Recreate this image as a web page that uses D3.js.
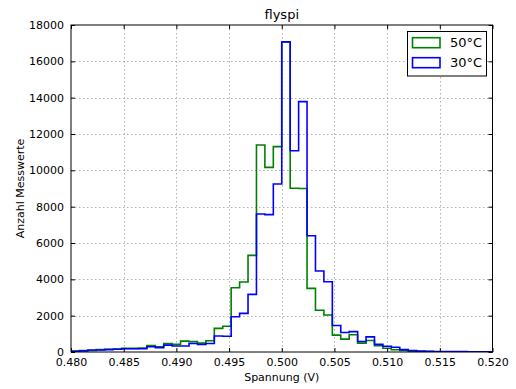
<!DOCTYPE html>
<html>
<head>
<meta charset="utf-8">
<script src="https://cdn.jsdelivr.net/npm/d3@7"></script>
<style>
  body { margin: 0; background: #fff; }
  text { font-family: "DejaVu Sans", sans-serif; fill: #000; }
</style>
</head>
<body>
<svg id="chart" width="516" height="389"></svg>
<script>
// ---- data ----
const title = "flyspi";
const xLabel = "Spannung (V)";
const yLabel = "Anzahl Messwerte";
const seriesNames = ["50°C", "30°C"];
const binMin = 0.480, binMax = 0.520, binCount = 50;
const values50 = [50, 80, 80, 130, 150, 160, 200, 200, 220, 350,
  290, 460, 420, 600, 570, 490, 620, 1300, 1420, 3540,
  3850, 5320, 11395, 10165, 11303, 17050, 9010, 9000, 3505, 2295,
  2037, 930, 710, 950, 490, 630, 340, 210, 120, 80,
  50, 30, 20, 15, 10, 10, 5, 5, 5, 5];
const values30 = [40, 60, 110, 110, 130, 150, 180, 180, 180, 290,
  240, 380, 330, 330, 470, 410, 470, 880, 870, 1944,
  2128, 3174, 7597, 7560, 9248, 17080, 11080, 13780, 6403, 4459,
  3871, 1460, 1070, 1120, 580, 830, 420, 320, 260, 130,
  80, 50, 40, 30, 30, 20, 20, 15, 15, 10];
const xTicks = [0.480, 0.485, 0.490, 0.495, 0.500, 0.505, 0.510, 0.515, 0.520];
const yTicks = [0, 2000, 4000, 6000, 8000, 10000, 12000, 14000, 16000, 18000];
const colors = ["#008000", "#0000ff"];

// ---- layout ----
const svg = d3.select("#chart");
const L = 71, R = 492.5, T = 25, B = 352;
const x = d3.scaleLinear().domain([binMin, binMax]).range([L, R]);
const y = d3.scaleLinear().domain([0, 18000]).range([B, T]);
const edges = d3.range(binCount + 1).map(i => binMin + (binMax - binMin) * i / binCount);

svg.append("rect").attr("x", 0).attr("y", 0).attr("width", 516).attr("height", 389).attr("fill", "#fff");

// grid
const grid = svg.append("g").attr("stroke", "#b0b0b0").attr("stroke-width", 1).attr("stroke-dasharray", "1.5,2.5");
xTicks.slice(1, -1).forEach(t => grid.append("line").attr("x1", Math.round(x(t)) + 0.5).attr("x2", Math.round(x(t)) + 0.5).attr("y1", T).attr("y2", B));
yTicks.slice(1, -1).forEach(t => grid.append("line").attr("y1", Math.round(y(t)) + 0.5).attr("y2", Math.round(y(t)) + 0.5).attr("x1", L).attr("x2", R));

// clip
svg.append("clipPath").attr("id", "clip").append("rect").attr("x", L).attr("y", T).attr("width", R - L).attr("height", B - T);

function stepPoints(vals) {
  const pts = [[edges[0], 0]];
  vals.forEach((v, i) => { pts.push([edges[i], v]); pts.push([edges[i + 1], v]); });
  pts.push([edges[binCount], 0]);
  return pts;
}
const line = d3.line().x(d => x(d[0])).y(d => y(d[1]));
[values50, values30].forEach((vals, k) => {
  svg.append("path").attr("clip-path", "url(#clip)")
    .attr("d", line(stepPoints(vals)))
    .attr("fill", "none").attr("stroke", colors[k]).attr("stroke-width", 1.6)
    .attr("stroke-linejoin", "miter");
});

// axes with inside ticks
const xAxisB = d3.axisBottom(x).tickValues(xTicks).tickFormat(d3.format(".3f")).tickSizeInner(-4).tickSizeOuter(0).tickPadding(6);
const yAxisL = d3.axisLeft(y).tickValues(yTicks).tickFormat(d3.format("d")).tickSizeInner(-4).tickSizeOuter(0).tickPadding(6);
const gx = svg.append("g").attr("transform", `translate(0,${B})`).call(xAxisB);
const gy = svg.append("g").attr("transform", `translate(${L},0)`).call(yAxisL);
const gxt = svg.append("g").attr("transform", `translate(0,${T})`).call(d3.axisTop(x).tickValues(xTicks).tickFormat("").tickSizeInner(-4).tickSizeOuter(0));
const gyr = svg.append("g").attr("transform", `translate(${R},0)`).call(d3.axisRight(y).tickValues(yTicks).tickFormat("").tickSizeInner(-4).tickSizeOuter(0));
[gx, gy, gxt, gyr].forEach(g => {
  g.select(".domain").remove();
  g.selectAll("line").attr("stroke", "#000");
  g.selectAll("text").attr("font-size", 11).attr("font-family", "DejaVu Sans").attr("fill", "#000");
});
gy.selectAll("text").attr("dx", "-0.1em");

// frame
svg.append("rect").attr("x", L).attr("y", T).attr("width", R - L).attr("height", B - T)
  .attr("fill", "none").attr("stroke", "#000").attr("stroke-width", 1);

// labels
svg.append("text").attr("x", (L + R) / 2).attr("y", 19).attr("text-anchor", "middle").attr("font-size", 13).text(title);
svg.append("text").attr("x", (L + R) / 2).attr("y", 381).attr("text-anchor", "middle").attr("font-size", 11).text(xLabel);
svg.append("text").attr("transform", `translate(24,${(T + B) / 2}) rotate(-90)`).attr("text-anchor", "middle").attr("font-size", 11).text(yLabel);

// legend
const lg = svg.append("g");
lg.append("rect").attr("x", 407.5).attr("y", 31.5).attr("width", 79).attr("height", 44.5)
  .attr("fill", "#fff").attr("stroke", "#000").attr("stroke-width", 1);
seriesNames.forEach((name, i) => {
  const cy = 42.7 + i * 20;
  lg.append("rect").attr("x", 412.5).attr("y", cy - 5).attr("width", 27.5).attr("height", 10)
    .attr("fill", "none").attr("stroke", colors[i]).attr("stroke-width", 1.6);
  lg.append("text").attr("x", 450).attr("y", cy).attr("dy", "0.36em").attr("font-size", 13).text(name);
});
</script>
</body>
</html>
